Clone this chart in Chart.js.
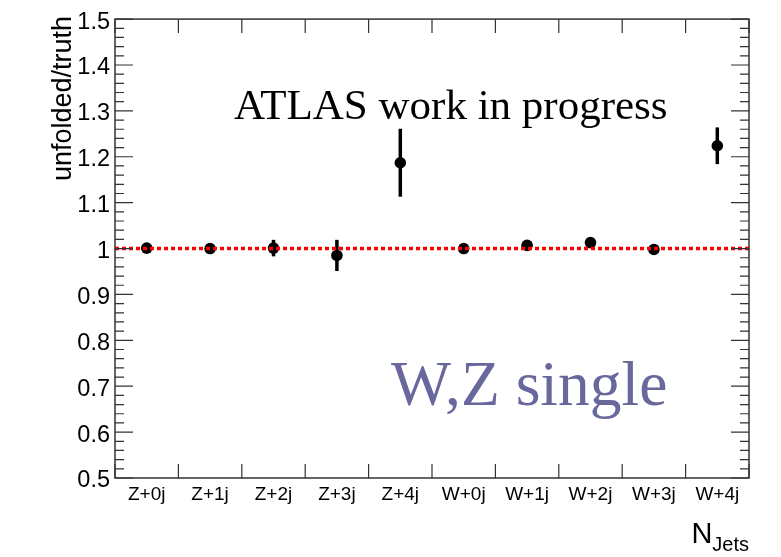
<!DOCTYPE html>
<html>
<head>
<meta charset="utf-8">
<script src="https://cdn.jsdelivr.net/npm/chart.js@4.4.0/dist/chart.umd.min.js"></script>
<style>
    body { margin: 0; background: #fff; }
    canvas { display: block; }
</style>
</head>
<body>
<canvas id="grafico" width="781" height="557"></canvas>
<script>
// categorias e valores
var categorias = ['Z+0j', 'Z+1j', 'Z+2j', 'Z+3j', 'Z+4j', 'W+0j', 'W+1j', 'W+2j', 'W+3j', 'W+4j'];
var razao = [1.001, 1.000, 1.001, 0.985, 1.187, 1.000, 1.007, 1.013, 0.998, 1.224];
var erros = [0.004, 0.004, 0.018, 0.034, 0.074, 0.004, 0.004, 0.004, 0.010, 0.040];
var yTicks = [0.5, 0.6, 0.7, 0.8, 0.9, 1, 1.1, 1.2, 1.3, 1.4, 1.5];
var linhaRef = 1;

var corEixo = '#333';

// barras de erro, linha vermelha, moldura e textos estilo ROOT
var rootStyle = {
    id: 'rootStyle',
    beforeDatasetsDraw: function (chart) {
        var ctx = chart.ctx;
        var x = chart.scales.x, y = chart.scales.y;
        ctx.save();
        ctx.strokeStyle = '#000';
        ctx.lineWidth = 3.5;
        for (var i = 0; i < razao.length; i++) {
            var px = x.getPixelForValue(i);
            ctx.beginPath();
            ctx.moveTo(px, y.getPixelForValue(razao[i] - erros[i]));
            ctx.lineTo(px, y.getPixelForValue(razao[i] + erros[i]));
            ctx.stroke();
        }
        ctx.restore();
    },
    afterDatasetsDraw: function (chart) {
        var ctx = chart.ctx;
        var a = chart.chartArea;
        var x = chart.scales.x, y = chart.scales.y;
        ctx.save();

        // linha de referencia em 1
        ctx.strokeStyle = '#ff0000';
        ctx.lineWidth = 3.5;
        ctx.setLineDash([4, 3]);
        ctx.beginPath();
        ctx.moveTo(a.left, y.getPixelForValue(linhaRef));
        ctx.lineTo(a.right, y.getPixelForValue(linhaRef));
        ctx.stroke();
        ctx.setLineDash([]);

        // moldura
        ctx.strokeStyle = corEixo;
        ctx.lineWidth = 1.5;
        ctx.strokeRect(a.left, a.top, a.right - a.left, a.bottom - a.top);

        // ticks do eixo y (esquerda e direita)
        ctx.lineWidth = 1.2;
        for (var v = 0; v <= 50; v++) {
            var val = 0.5 + v * 0.02;
            var py = y.getPixelForValue(val);
            var len = (v % 5 == 0) ? 18 : 9;
            ctx.beginPath();
            ctx.moveTo(a.left, py);
            ctx.lineTo(a.left + len, py);
            ctx.moveTo(a.right, py);
            ctx.lineTo(a.right - len, py);
            ctx.stroke();
        }

        // ticks do eixo x nas bordas das categorias
        for (var i = 0; i <= categorias.length; i++) {
            var px = x.getPixelForValue(i - 0.5);
            ctx.beginPath();
            ctx.moveTo(px, a.bottom);
            ctx.lineTo(px, a.bottom - 14);
            ctx.moveTo(px, a.top);
            ctx.lineTo(px, a.top + 14);
            ctx.stroke();
        }

        // titulo do eixo y
        ctx.fillStyle = '#000';
        ctx.save();
        ctx.translate(71, 16);
        ctx.rotate(-Math.PI / 2);
        ctx.font = '27px "Liberation Sans", Arial, sans-serif';
        ctx.textAlign = 'right';
        ctx.textBaseline = 'alphabetic';
        ctx.fillText('unfolded/truth', 0, 0);
        ctx.restore();

        // titulo do eixo x: N_Jets
        ctx.textBaseline = 'alphabetic';
        ctx.textAlign = 'right';
        ctx.font = '20px "Liberation Sans", Arial, sans-serif';
        ctx.fillText('Jets', a.right, 551);
        var wJets = ctx.measureText('Jets').width;
        ctx.font = '29px "Liberation Sans", Arial, sans-serif';
        ctx.fillText('N', a.right - wJets, 543);

        // textos
        ctx.textAlign = 'left';
        ctx.font = '43px "Liberation Serif", "Times New Roman", serif';
        ctx.fillStyle = '#000';
        ctx.fillText('ATLAS work in progress', 234, 119);
        ctx.font = '63.5px "Liberation Serif", "Times New Roman", serif';
        ctx.fillStyle = 'rgb(104, 104, 156)';
        ctx.fillText('W,Z single', 391, 405);

        ctx.restore();
    }
};

var ctx = document.getElementById('grafico');
var myChart = new Chart(ctx, {
    type: 'line',
    data: {
        labels: categorias,
        datasets: [{
            label: 'unfolded/truth',
            data: razao,
            showLine: false,
            pointRadius: 5.8,
            pointHoverRadius: 5.8,
            pointBackgroundColor: '#000',
            pointBorderColor: '#000',
            pointBorderWidth: 0
        }]
    },
    options: {
        responsive: false,
        animation: false,
        devicePixelRatio: 1,
        layout: {
            padding: { top: 17, right: 32, left: 0, bottom: 0 }
        },
        plugins: {
            legend: { display: false },
            tooltip: { enabled: false }
        },
        scales: {
            x: {
                type: 'category',
                offset: true,
                grid: { display: false, drawTicks: false },
                border: { display: false },
                ticks: {
                    color: '#000',
                    padding: 5,
                    maxRotation: 0,
                    autoSkip: false,
                    font: { family: '"Liberation Sans", Arial, sans-serif', size: 19 }
                },
                afterFit: function (scale) { scale.height = 557 - 478; }
            },
            y: {
                min: 0.5,
                max: 1.5,
                grid: { display: false, drawTicks: false },
                border: { display: false },
                afterBuildTicks: function (scale) {
                    scale.ticks = yTicks.map(function (v) { return { value: v }; });
                },
                ticks: {
                    color: '#000',
                    padding: 5,
                    labelOffset: 3,
                    font: { family: '"Liberation Sans", Arial, sans-serif', size: 23.5 },
                    callback: function (v) { return String(Math.round(v * 10) / 10); }
                },
                afterFit: function (scale) { scale.width = 115; }
            }
        }
    },
    plugins: [rootStyle]
});
</script>
</body>
</html>
